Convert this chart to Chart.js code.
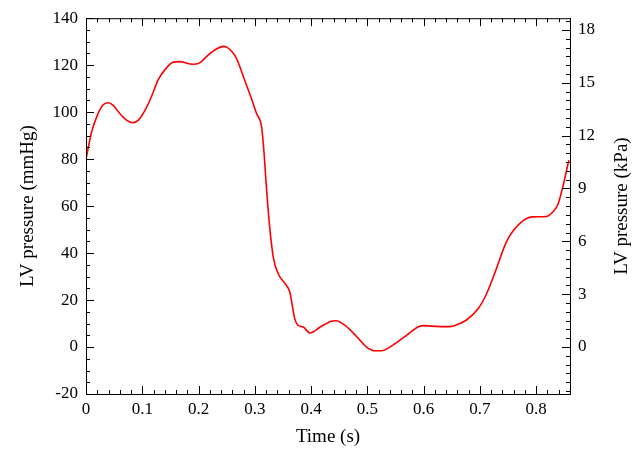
<!DOCTYPE html>
<html>
<head>
<meta charset="utf-8">
<script src="https://cdn.jsdelivr.net/npm/chart.js@4/dist/chart.umd.min.js"></script>
<style>
  html, body { margin: 0; padding: 0; background: #fff; }
  #wrap { width: 638px; height: 450px; }
</style>
</head>
<body>
<div id="wrap"><canvas id="c"></canvas></div>
<script>
// --- Data ---
const timeS = [0, 0.01, 0.019, 0.03, 0.039, 0.048, 0.06, 0.072, 0.083, 0.093, 0.105, 0.117, 0.128, 0.14,
  0.155, 0.166, 0.19, 0.202, 0.217, 0.231, 0.244, 0.25, 0.266, 0.282, 0.297, 0.303, 0.312, 0.316, 0.32,
  0.326, 0.333, 0.342, 0.352, 0.362, 0.371, 0.376, 0.386, 0.398, 0.416, 0.436, 0.444, 0.463, 0.481,
  0.498, 0.513, 0.525, 0.546, 0.57, 0.59, 0.6, 0.629, 0.647, 0.658, 0.676, 0.697, 0.712, 0.726, 0.747,
  0.759, 0.774, 0.792, 0.818, 0.83, 0.839, 0.848, 0.858];
const pressureMmHg = [80, 91.6, 98, 103, 104, 103, 99.4, 96.6, 95.5, 96.6, 100.9, 107, 113.6, 118,
  121.3, 121.5, 120.4, 121, 124.3, 126.8, 128, 127.7, 123.5, 113.6, 103.7, 99.4, 93.7, 83.8, 70,
  52, 38, 31, 27.5, 23.5, 12, 9.4, 8.5, 6, 8.5, 11, 11.2, 8.7, 4.4,
  0.1, -1.6, -1.6, 0.9, 5.1, 8.5, 9.1, 8.7, 8.7, 9.4, 11.5, 16.4, 22.8, 31.3, 44.8,
  49.5, 53.3, 55.4, 55.6, 57.6, 61, 69, 79.6];
const leftTicks = [-20, 0, 20, 40, 60, 80, 100, 120, 140];
const rightTicks = [0, 3, 6, 9, 12, 15, 18];
const xTicks = [0, 0.1, 0.2, 0.3, 0.4, 0.5, 0.6, 0.7, 0.8];
const MMHG_PER_KPA = 7.5;

const points = timeS.map((t, i) => ({ x: t, y: pressureMmHg[i] }));
const serif = 'Liberation Serif';

// --- Inward tick marks on all four sides, plus the two y titles ---
const inwardTicks = {
  id: 'inwardTicks',
  afterDraw(chart) {
    const { ctx, chartArea: a, scales } = chart;
    ctx.save();
    ctx.strokeStyle = '#000';
    ctx.lineWidth = 1;
    const line = (x1, y1, x2, y2) => { ctx.beginPath(); ctx.moveTo(x1, y1); ctx.lineTo(x2, y2); ctx.stroke(); };
    // x axis: major 0.1, minor 0.02
    for (let k = 0; k <= 43; k++) {
      const v = k * 0.02;
      const px = Math.round(scales.x.getPixelForValue(v)) + 0.5;
      const len = k % 5 === 0 ? 8 : 4;
      line(px, a.bottom, px, a.bottom - len);
      line(px, a.top, px, a.top + len);
    }
    // left axis: major 20, minor 5
    for (let v = -20; v <= 140; v += 5) {
      const py = Math.round(scales.y.getPixelForValue(v)) + 0.5;
      line(a.left, py, a.left + (v % 20 === 0 ? 8 : 4), py);
    }
    // right axis: major 3 kPa, minor 0.5 kPa
    for (let k = -5; k <= 37; k++) {
      const v = k * 0.5;
      const py = Math.round(scales.y2.getPixelForValue(v)) + 0.5;
      line(a.right, py, a.right - (k % 6 === 0 ? 8 : 4), py);
    }
    ctx.strokeRect(a.left + 0.5, a.top + 0.5, a.right - a.left, a.bottom - a.top);

    // titles, both reading bottom to top
    const midY = (a.top + a.bottom) / 2;
    ctx.fillStyle = '#000';
    ctx.font = '19px "' + serif + '"';
    ctx.textAlign = 'center';
    ctx.textBaseline = 'middle';
    [[28, 'LV pressure (mmHg)'], [622, 'LV pressure (kPa)']].forEach(([x, text]) => {
      ctx.save();
      ctx.translate(x, midY);
      ctx.rotate(-Math.PI / 2);
      ctx.fillText(text, 0, 0);
      ctx.restore();
    });
    ctx.restore();
  }
};

new Chart(document.getElementById('c'), {
  type: 'line',
  data: {
    datasets: [{
      data: points,
      borderColor: '#ff0000',
      borderWidth: 1.6,
      pointRadius: 0,
      fill: false,
      cubicInterpolationMode: 'monotone'
    }]
  },
  options: {
    responsive: true,
    maintainAspectRatio: false,
    animation: false,
    layout: { padding: { top: 18 } },
    plugins: { legend: { display: false }, tooltip: { enabled: false } },
    scales: {
      x: {
        type: 'linear', min: 0, max: 0.86,
        grid: { display: false, drawTicks: false },
        border: { display: false },
        afterBuildTicks: s => { s.ticks = xTicks.map(v => ({ value: v })); },
        afterFit: s => { s.height = 56; },
        ticks: { color: '#000', padding: 5, font: { family: serif, size: 17 }, callback: v => String(v) },
        title: { display: true, text: 'Time (s)', color: '#000', padding: 2, font: { family: serif, size: 19 } }
      },
      y: {
        type: 'linear', position: 'left', min: -20, max: 140,
        grid: { display: false, drawTicks: false },
        border: { display: false },
        afterBuildTicks: s => { s.ticks = leftTicks.map(v => ({ value: v })); },
        afterFit: s => { s.width = 86; },
        ticks: { color: '#000', padding: 8, font: { family: serif, size: 17 } },
        title: { display: false }
      },
      y2: {
        type: 'linear', position: 'right', min: -20 / MMHG_PER_KPA, max: 140 / MMHG_PER_KPA,
        grid: { display: false, drawTicks: false },
        border: { display: false },
        afterBuildTicks: s => { s.ticks = rightTicks.map(v => ({ value: v })); },
        afterFit: s => { s.width = 68; },
        ticks: { color: '#000', padding: 8, font: { family: serif, size: 17 } },
        title: { display: false }
      }
    }
  },
  plugins: [inwardTicks]
});
</script>
</body>
</html>
